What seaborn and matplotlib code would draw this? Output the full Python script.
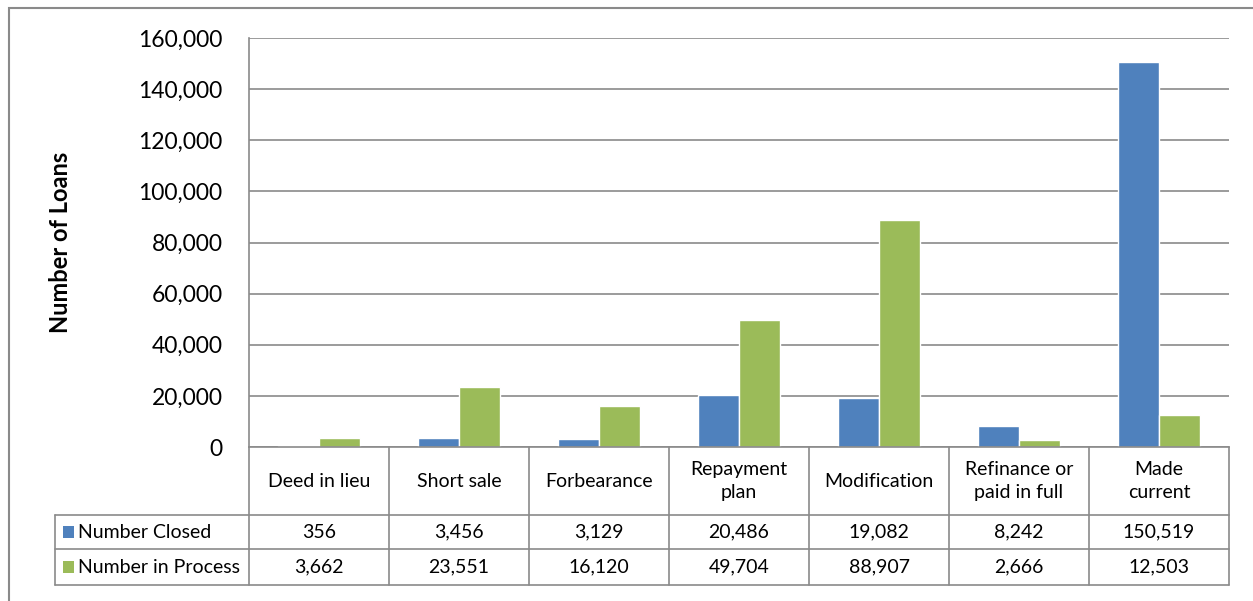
import matplotlib
matplotlib.use("Agg")
import matplotlib.pyplot as plt
import seaborn as sns
import pandas as pd
from matplotlib.transforms import blended_transform_factory
from matplotlib.patches import Rectangle
from matplotlib.lines import Line2D

# Loan workout outcomes
categories = ["Deed in lieu", "Short sale", "Forbearance", "Repayment\nplan",
              "Modification", "Refinance or\npaid in full", "Made\ncurrent"]
series = ["Number Closed", "Number in Process"]
closed = [356, 3456, 3129, 20486, 19082, 8242, 150519]
in_process = [3662, 23551, 16120, 49704, 88907, 2666, 12503]
y_ticks = [0, 20000, 40000, 60000, 80000, 100000, 120000, 140000, 160000]
colors = ["#4F81BD", "#9BBB59"]

sns.set_theme(style="white")
plt.rcParams["font.family"] = ["Lato", "DejaVu Sans"]

df = pd.DataFrame({
    "category": categories * 2,
    "series": [series[0]] * len(categories) + [series[1]] * len(categories),
    "value": closed + in_process,
})

W, H = 1253, 601
text_color = "#000000"
fig = plt.figure(figsize=(W / 100, H / 100), dpi=100)
fig.patch.set_facecolor("white")
ax = fig.add_axes([249 / W, 1 - 447 / H, 980 / W, 409 / H])

sns.barplot(data=df, x="category", y="value", hue="series", order=categories,
            hue_order=series, palette=colors, saturation=1, width=0.585,
            legend=False, ax=ax)

grid_color = "#8a8a8a"
ax.set_xlim(-0.5, len(categories) - 0.5)
ax.set_ylim(0, 160000)
ax.set_yticks(y_ticks)
ax.set_yticklabels([f"{v:,}" for v in y_ticks], fontsize=16.5, color=text_color)
ax.set_xticks(range(len(categories)))
ax.set_xticklabels([])
ax.set_xlabel("")
ax.set_ylabel("")
ax.tick_params(axis="both", length=0)
ax.tick_params(axis="y", pad=19)
ax.yaxis.grid(True, color=grid_color, lw=1.2)
ax.set_axisbelow(True)
for side in ["top", "right"]:
    ax.spines[side].set_visible(False)
for side in ["left", "bottom"]:
    ax.spines[side].set_color(grid_color)
    ax.spines[side].set_linewidth(1.2)

fig.text(60 / W, 1 - 242 / H, "Number of Loans", rotation=90, ha="center",
         va="center", fontsize=17, fontweight="bold", color=text_color)

# Data table under the plot
trans = blended_transform_factory(ax.transData, ax.transAxes)
header_bottom, row1_bottom, row2_bottom = -0.1663, -0.2494, -0.3374
table_left = -1.886
n = len(categories)

def line(xs, ys):
    ax.add_line(Line2D(xs, ys, transform=trans, color=grid_color, lw=1.2,
                       clip_on=False))

for i in range(n + 1):
    line([i - 0.5, i - 0.5], [0, row2_bottom])
for yv in (header_bottom, row1_bottom, row2_bottom):
    line([table_left, n - 0.5], [yv, yv])
line([table_left, table_left], [header_bottom, row2_bottom])

for i, cat in enumerate(categories):
    ax.text(i, header_bottom / 2, cat, transform=trans, ha="center",
            va="center", fontsize=14, color=text_color, linespacing=1.45)

row_centers = [(header_bottom + row1_bottom) / 2, (row1_bottom + row2_bottom) / 2]
for vals, yc, name, col in zip((closed, in_process), row_centers, series, colors):
    for i, v in enumerate(vals):
        ax.text(i, yc, f"{v:,}", transform=trans, ha="center", va="center",
                fontsize=14, color=text_color)
    ax.add_patch(Rectangle((table_left + 0.057, yc - 0.0135), 0.079, 0.027,
                           transform=trans, facecolor=col, edgecolor="none",
                           clip_on=False))
    ax.text(table_left + 0.165, yc, name, transform=trans, ha="left",
            va="center", fontsize=14, color=text_color)

# Chart area frame
fig.add_artist(Rectangle((9 / W, -0.5), 2, 0.5 + 1 - 8 / H,
                         transform=fig.transFigure, facecolor="none",
                         edgecolor="#8a8a8a", lw=1.5))

fig.savefig("out.png", dpi=100)
